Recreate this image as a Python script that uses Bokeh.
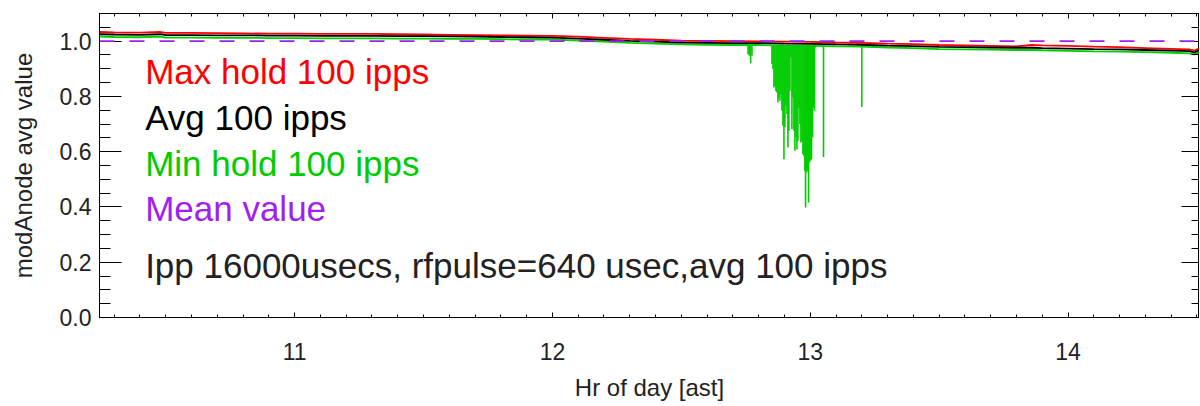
import numpy as np
from bokeh.plotting import figure
from bokeh.models import (Range1d, LinearAxis, SingleIntervalTicker,
                          PrintfTickFormatter, CustomJSTickFormatter, Label, Span,
                          ColumnDataSource)
from bokeh.embed import file_html
from bokeh.resources import INLINE

# ---------------- data ----------------
hours = [10.243, 10.30, 10.40, 10.48, 10.50, 10.60, 10.70, 10.80, 10.90, 11.00,
         11.10, 11.20, 11.30, 11.40, 11.50, 11.60, 11.70, 11.80, 11.90, 12.00,
         12.10, 12.20, 12.30, 12.40, 12.50, 12.60, 12.70, 12.80, 12.90, 13.00,
         13.10, 13.20, 13.30, 13.40, 13.50, 13.60, 13.70, 13.80, 13.86, 13.90,
         14.00, 14.10, 14.20, 14.30, 14.40, 14.47, 14.49, 14.51]

max_hold = [1.033, 1.032, 1.031, 1.033, 1.030, 1.030, 1.029, 1.028, 1.027, 1.027,
            1.026, 1.026, 1.026, 1.025, 1.024, 1.023, 1.022, 1.021, 1.020, 1.019,
            1.016, 1.012, 1.008, 1.005, 1.002, 1.001, 1.000, 0.999, 0.998, 0.997,
            0.995, 0.994, 0.991, 0.989, 0.986, 0.985, 0.983, 0.981, 0.986, 0.985,
            0.983, 0.980, 0.978, 0.975, 0.972, 0.970, 0.966, 0.974]

avg = [1.025, 1.024, 1.023, 1.025, 1.022, 1.022, 1.021, 1.021, 1.020, 1.020,
       1.019, 1.019, 1.019, 1.018, 1.018, 1.017, 1.016, 1.015, 1.014, 1.013,
       1.009, 1.005, 1.001, 0.998, 0.995, 0.994, 0.993, 0.993, 0.991, 0.990,
       0.988, 0.987, 0.984, 0.982, 0.979, 0.978, 0.977, 0.976, 0.976, 0.975,
       0.973, 0.971, 0.970, 0.968, 0.966, 0.964, 0.959, 0.968]

min_hold = [1.016, 1.015, 1.014, 1.016, 1.013, 1.013, 1.012, 1.012, 1.011, 1.011,
            1.010, 1.010, 1.010, 1.009, 1.009, 1.008, 1.008, 1.007, 1.006, 1.006,
            1.002, 0.998, 0.994, 0.991, 0.988, 0.987, 0.986, 0.986, 0.984, 0.983,
            0.981, 0.980, 0.977, 0.975, 0.971, 0.970, 0.969, 0.968, 0.968, 0.967,
            0.965, 0.963, 0.962, 0.960, 0.958, 0.956, 0.952, 0.961]

# drop-outs of the min-hold trace
dip_hours = [12.7586, 12.7638, 12.7690, 12.7740,
             12.8515, 12.8554, 12.8592, 12.8631, 12.8670, 12.8708, 12.8747, 12.8786,
             12.8825, 12.8863, 12.8902, 12.8941, 12.8980, 12.9018, 12.9057, 12.9096,
             12.9135, 12.9173, 12.9212, 12.9251, 12.9290, 12.9328, 12.9367, 12.9406,
             12.9444, 12.9483, 12.9522, 12.9561, 12.9599, 12.9638, 12.9677, 12.9716,
             12.9754, 12.9793, 12.9818, 12.9857, 12.9895, 12.9934, 12.9973, 13.0011,
             13.0050, 13.0089, 13.0128, 13.0166, 13.0192,
             13.0515, 13.2000]
dip_values = [0.953, 0.947, 0.920, 0.947,
              0.917, 0.899, 0.832, 0.838, 0.820, 0.814, 0.778, 0.796,
              0.784, 0.808, 0.748, 0.694, 0.573, 0.688, 0.766, 0.736,
              0.615, 0.676, 0.820, 0.941, 0.682, 0.796, 0.676, 0.603,
              0.652, 0.609, 0.639, 0.760, 0.700, 0.633, 0.639, 0.591,
              0.585, 0.531, 0.398, 0.525, 0.531, 0.416, 0.561, 0.567,
              0.573, 0.652, 0.760, 0.748, 0.977,
              0.581, 0.762]
dip_top = 0.986

mean_value = 1.0

legend_texts = ["Max hold 100 ipps", "Avg 100 ipps", "Min hold 100 ipps", "Mean value",
                "Ipp 16000usecs, rfpulse=640 usec,avg 100 ipps"]
legend_colors = ["#ff0000", "#000000", "#00cc00", "#a020f0", "#222222"]
legend_y = [0.889, 0.724, 0.559, 0.394, 0.187]

# ---------------- figure ----------------
FONT = "Liberation Sans"

p = figure(frame_width=1100, frame_height=304,
           x_range=Range1d(10.243, 14.51), y_range=Range1d(0.0, 1.1),
           output_backend="svg", toolbar_location=None,
           min_border_left=99, min_border_top=13, min_border_bottom=89,
           min_border_right=0)
p.background_fill_color = "white"
p.border_fill_color = "white"
p.outline_line_color = "black"
p.outline_line_width = 1
p.xgrid.visible = False
p.ygrid.visible = False

# bottom axis
xa = p.xaxis[0]
xa.ticker = SingleIntervalTicker(interval=1, num_minor_ticks=10)
xa.major_tick_in = 5
xa.major_tick_out = 0
xa.minor_tick_in = 3
xa.minor_tick_out = 0
xa.axis_label = "Hr of day [ast]"
xa.axis_label_text_font = FONT
xa.axis_label_text_font_size = "24px"
xa.axis_label_text_font_style = "normal"
xa.axis_label_text_color = "#222222"
xa.axis_label_standoff = 11
xa.major_label_text_font = FONT
xa.major_label_text_font_size = "23px"
xa.major_label_text_color = "#222222"
xa.major_label_standoff = 25

# left axis
ya = p.yaxis[0]
ya.ticker = SingleIntervalTicker(interval=0.2, num_minor_ticks=4)
ya.formatter = PrintfTickFormatter(format="%.1f")
ya.major_tick_in = 22
ya.major_tick_out = 0
ya.minor_tick_in = 11
ya.minor_tick_out = 0
ya.axis_label = "modAnode avg value"
ya.axis_label_text_font = FONT
ya.axis_label_text_font_size = "24px"
ya.axis_label_text_font_style = "normal"
ya.axis_label_text_color = "#222222"
ya.axis_label_standoff = 20
ya.major_label_text_font = FONT
ya.major_label_text_font_size = "23px"
ya.major_label_text_color = "#222222"
ya.major_label_standoff = 8

blank = CustomJSTickFormatter(code="return '';")

# top axis (ticks only)
ta = LinearAxis(ticker=SingleIntervalTicker(interval=1, num_minor_ticks=10),
                formatter=blank,
                major_tick_in=5, major_tick_out=0, minor_tick_in=3, minor_tick_out=0,
                major_label_text_font_size="1px", major_label_standoff=0,
                axis_line_color="black")
p.add_layout(ta, "above")

# right axis (ticks only)
ra = LinearAxis(ticker=SingleIntervalTicker(interval=0.2, num_minor_ticks=4),
                formatter=blank,
                major_tick_in=18, major_tick_out=0, minor_tick_in=8, minor_tick_out=0,
                major_label_text_font_size="1px", major_label_standoff=0,
                axis_line_color="black")
p.add_layout(ra, "right")

src = ColumnDataSource(dict(h=hours, mx=max_hold, av=avg, mn=min_hold))
dips = ColumnDataSource(dict(h=dip_hours, v=dip_values))

p.line("h", "mx", source=src, line_color="#ff0000", line_width=1.8)
p.segment(x0="h", y0="v", x1="h", y1=dip_top, source=dips,
          line_color="#00cc00", line_width=1.6)
p.line("h", "mn", source=src, line_color="#00cc00", line_width=1.8)
p.line("h", "av", source=src, line_color="#000000", line_width=1.8)

p.add_layout(Span(location=mean_value, dimension="width", line_color="#a020f0",
                  line_width=1.8, line_dash="15 15"))

for t, c, yv in zip(legend_texts, legend_colors, legend_y):
    p.add_layout(Label(x=10.42, y=yv, text=t, text_color=c, text_font=FONT,
                       text_font_size="35px", text_baseline="alphabetic",
                       text_align="left"))

open("out.html", "w").write(file_html(p, INLINE))
